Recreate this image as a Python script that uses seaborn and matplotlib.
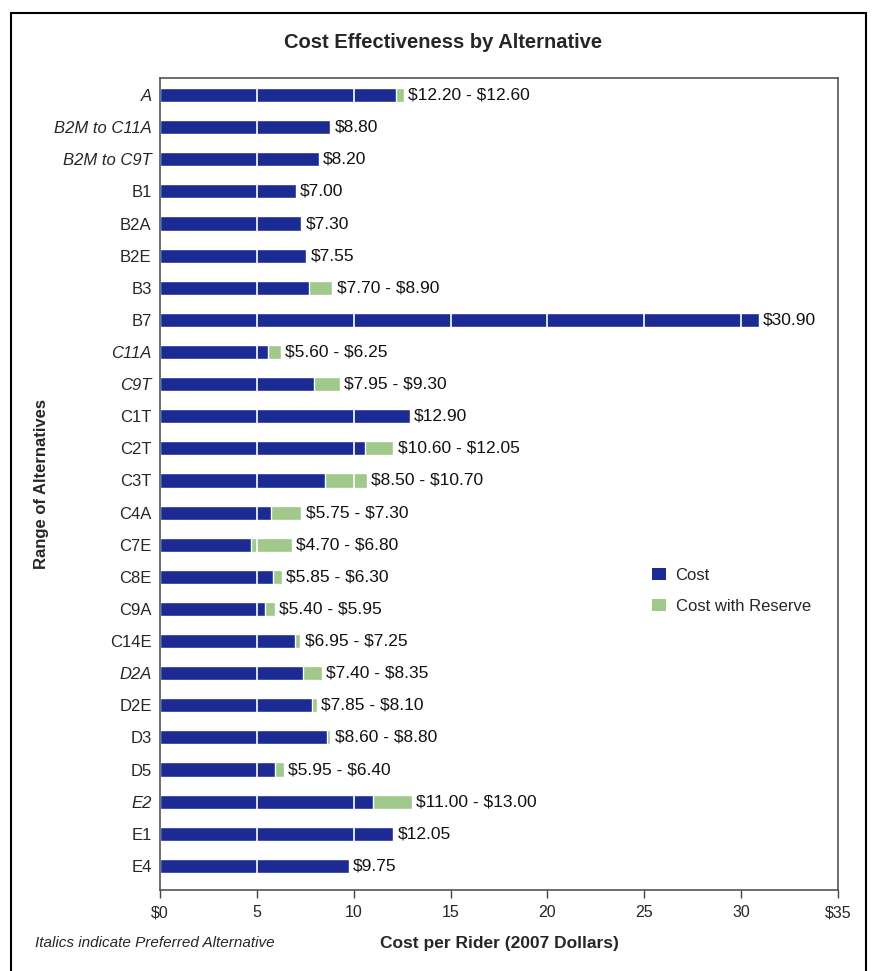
import matplotlib
matplotlib.use("Agg")
import matplotlib.pyplot as plt
import seaborn as sns
import pandas as pd
from matplotlib.patches import Rectangle, Patch

categories = ["A", "B2M to C11A", "B2M to C9T", "B1", "B2A", "B2E", "B3", "B7",
              "C11A", "C9T", "C1T", "C2T", "C3T", "C4A", "C7E", "C8E", "C9A",
              "C14E", "D2A", "D2E", "D3", "D5", "E2", "E1", "E4"]
cost = [12.20, 8.80, 8.20, 7.00, 7.30, 7.55, 7.70, 30.90,
        5.60, 7.95, 12.90, 10.60, 8.50, 5.75, 4.70, 5.85, 5.40,
        6.95, 7.40, 7.85, 8.60, 5.95, 11.00, 12.05, 9.75]
cost_reserve = [12.60, None, None, None, None, None, 8.90, None,
                6.25, 9.30, None, 12.05, 10.70, 7.30, 6.80, 6.30, 5.95,
                7.25, 8.35, 8.10, 8.80, 6.40, 13.00, None, None]
preferred = ["A", "B2M to C11A", "B2M to C9T", "C11A", "C9T", "D2A", "E2"]
xtick_vals = [0, 5, 10, 15, 20, 25, 30, 35]
xtick_labels = [r"\$0", "5", "10", "15", "20", "25", "30", r"\$35"]

BLUE = "#1c2b93"
GREEN = "#a0c98b"

df = pd.DataFrame({"cat": categories, "cost": cost,
                   "high": [r if r is not None else c for c, r in zip(cost, cost_reserve)]})

sns.set_style("white")
plt.rcParams["font.family"] = ["Liberation Sans", "DejaVu Sans"]

fig = plt.figure(figsize=(8.77, 9.71), dpi=100)
ax = fig.add_axes([160/877, 1-890/971, (838-160)/877, (890-78)/971])

sns.barplot(data=df, x="high", y="cat", order=categories, color=GREEN,
            width=0.44, saturation=1, ax=ax, zorder=2)
sns.barplot(data=df, x="cost", y="cat", order=categories, color=BLUE,
            width=0.44, saturation=1, ax=ax, zorder=3)

for xv in xtick_vals[1:-1]:
    ax.axvline(xv, ymin=0.01, ymax=0.99, color="white", lw=1.2, zorder=4)

for i, (c, r) in enumerate(zip(cost, cost_reserve)):
    hi = r if r is not None else c
    txt = f"\\${c:.2f}" if r is None else f"\\${c:.2f} - \\${r:.2f}"
    ax.annotate(txt, xy=(hi, i), xytext=(3, 0), textcoords="offset points",
                va="center", ha="left", fontsize=12.5, color="#111111", zorder=6)

ax.set_xlim(0, 35)
ax.set_ylim(24.75, -0.53)
ax.set_xticks(xtick_vals)
ax.set_xticklabels(xtick_labels, fontsize=11.5)
ax.tick_params(axis="x", bottom=True, direction="out", length=6, width=1, color="#444444", pad=5)
ax.tick_params(axis="y", left=False, length=0, pad=6)
ax.set_yticks(range(len(categories)))
ax.set_yticklabels(categories, fontsize=12)
for lab in ax.get_yticklabels():
    if lab.get_text() in preferred:
        lab.set_style("italic")

for s in ax.spines.values():
    s.set_color("#555555")
    s.set_linewidth(1.2)
    s.set_zorder(7)

ax.set_xlabel("")
ax.set_ylabel("")
fig.text(42/877, 1-(78+890)/2/971, "Range of Alternatives", rotation=90, ha="center", va="center",
         fontsize=12, fontweight="bold")
fig.text(499/877, 1-943/971, "Cost per Rider (2007 Dollars)", ha="center", va="center",
         fontsize=12.5, fontweight="bold")
fig.text(35/877, 1-943/971, "Italics indicate Preferred Alternative", ha="left", va="center",
         fontsize=11, style="italic")
fig.text(443/877, 1-43/971, "Cost Effectiveness by Alternative", ha="center", va="center",
         fontsize=14.5, fontweight="bold")

handles = [Patch(facecolor=BLUE, edgecolor="none", label="Cost"),
           Patch(facecolor=GREEN, edgecolor="none", label="Cost with Reserve")]
ax.legend(handles=handles, loc="upper left", bbox_to_anchor=(0.726, 0.397), frameon=False,
          fontsize=12, handlelength=0.8, handleheight=0.8, handletextpad=0.6,
          labelspacing=0.95, borderaxespad=0, borderpad=0)

fig.patches.append(Rectangle((11/877, -0.02), (866-11)/877, 1-13/971+0.02, transform=fig.transFigure,
                             fill=False, edgecolor="black", lw=1.5))

fig.savefig("out.png", dpi=100, facecolor="white")
